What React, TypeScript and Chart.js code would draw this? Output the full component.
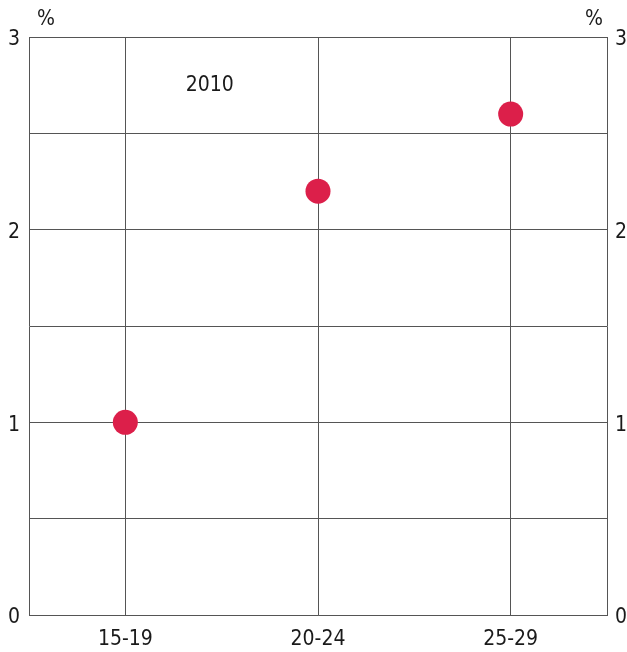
import React, { useEffect, useRef } from "react";
import { Chart, registerables } from "chart.js";

Chart.register(...registerables);

const categories = ["15-19", "20-24", "25-29"];
const values2010 = [1.0, 2.2, 2.6];
const yMin = 0;
const yMax = 3;
const yStep = 0.5;
const yLabelText = "%";
const annotationText = "2010";

const FONT = "'Liberation Sans Narrow', 'DejaVu Sans Condensed', 'Noto Sans', sans-serif";

export default function App() {
  const ref = useRef<HTMLCanvasElement | null>(null);

  useEffect(() => {
    if (!ref.current) return;
    const textPlugin = {
      id: "extraText",
      afterDraw(chart: any) {
        const { ctx, chartArea } = chart;
        ctx.save();
        ctx.fillStyle = "#1a1a1a";
        ctx.font = `21px ${FONT}`;
        ctx.textAlign = "center";
        ctx.textBaseline = "middle";
        ctx.fillText(yLabelText, chartArea.left + 17, chartArea.top - 17);
        ctx.fillText(yLabelText, chartArea.right - 13, chartArea.top - 17);
        const xs = chart.scales.x;
        const xPos = (xs.getPixelForValue(0) + xs.getPixelForValue(1)) / 2 - 12;
        ctx.fillText(annotationText, xPos, chart.scales.y.getPixelForValue(2.75));
        ctx.restore();
      },
    };

    const tickCb = (v: any) => (Number(v) % 1 === 0 ? String(v) : "");

    const chart = new Chart(ref.current, {
      type: "line",
      data: {
        labels: categories,
        datasets: [
          {
            label: annotationText,
            data: values2010,
            showLine: false,
            pointRadius: 12.5,
            pointHoverRadius: 12.5,
            pointBackgroundColor: "#DC1F4A",
            pointBorderColor: "#DC1F4A",
            pointBorderWidth: 0,
          },
        ],
      },
      plugins: [textPlugin],
      options: {
        animation: false,
        responsive: false,
        maintainAspectRatio: false,
        layout: { padding: { top: 37, right: 0, left: 0, bottom: 0 } },
        plugins: {
          legend: { display: false },
          tooltip: { enabled: false },
          title: { display: false },
        },
        scales: {
          x: {
            type: "category",
            offset: true,
            afterFit: (s: any) => { s.height = 37; },
            grid: {
              display: true,
              color: "#555",
              lineWidth: 1,
              drawTicks: false,
              offset: false,
            },
            border: { display: true, color: "#555", width: 1 },
            ticks: {
              color: "#1a1a1a",
              font: { family: FONT, size: 21 },
              padding: 12,
              maxRotation: 0,
            },
          },
          y: {
            position: "left",
            min: yMin,
            max: yMax,
            afterFit: (s: any) => { s.width = 29; },
            grid: { color: "#555", lineWidth: 1, drawTicks: false },
            border: { display: true, color: "#555", width: 1 },
            ticks: {
              stepSize: yStep,
              callback: tickCb,
              color: "#1a1a1a",
              font: { family: FONT, size: 21 },
              padding: 9,
              labelOffset: 3,
            },
          },
          y2: {
            position: "right",
            min: yMin,
            max: yMax,
            afterFit: (s: any) => { s.width = 20; },
            grid: { display: false, drawTicks: false },
            border: { display: true, color: "#555", width: 1 },
            ticks: {
              stepSize: yStep,
              callback: tickCb,
              color: "#1a1a1a",
              font: { family: FONT, size: 21 },
              padding: 8,
              labelOffset: 3,
            },
          },
        },
      } as any,
    });
    return () => chart.destroy();
  }, []);

  return (
    <div style={{ position: "absolute", left: 0, top: 0, width: 627, height: 652 }}>
      <canvas ref={ref} width={627} height={652} style={{ width: 627, height: 652 }} />
    </div>
  );
}
